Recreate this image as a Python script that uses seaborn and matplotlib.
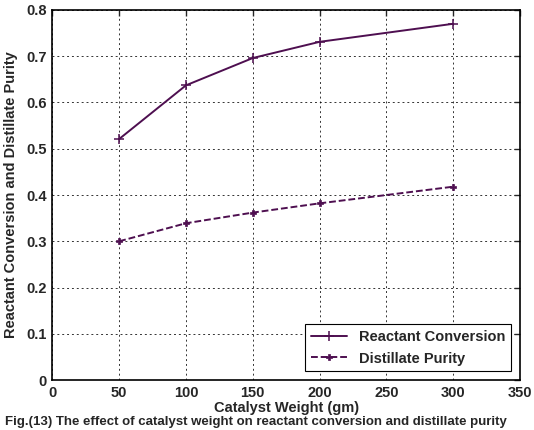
import matplotlib
matplotlib.use("Agg")
import matplotlib.pyplot as plt
import seaborn as sns

weights = [50, 100, 150, 200, 300]
reactant_conversion = [0.521, 0.637, 0.696, 0.731, 0.770]
distillate_purity = [0.300, 0.339, 0.362, 0.382, 0.418]
x_ticks = [0, 50, 100, 150, 200, 250, 300, 350]
y_ticks = [0, 0.1, 0.2, 0.3, 0.4, 0.5, 0.6, 0.7, 0.8]
y_tick_labels = ["0", "0.1", "0.2", "0.3", "0.4", "0.5", "0.6", "0.7", "0.8"]

sns.set_style("white")
plt.rcParams['font.family'] = ['Liberation Sans', 'DejaVu Sans']
plt.rcParams['font.weight'] = 'bold'

color = "#4e0f50"
fig = plt.figure(figsize=(5.34, 4.30), dpi=100)
ax = fig.add_axes([0.098, 0.116, 0.876, 0.861])
sns.lineplot(x=weights, y=reactant_conversion, ax=ax, color=color,
             marker="+", markersize=7, markeredgewidth=1.1, markeredgecolor=color,
             linewidth=1.4, label="Reactant Conversion")
sns.lineplot(x=weights, y=distillate_purity, ax=ax, color=color,
             marker="P", markersize=5, markeredgewidth=0.5, markeredgecolor=color,
             markerfacecolor=color, linewidth=1.4,
             linestyle=(0, (3.5, 1.5)), label="Distillate Purity")

ax.set_xlim(0, 350)
ax.set_ylim(0, 0.8)
ax.set_xticks(x_ticks)
ax.set_yticks(y_ticks)
ax.set_yticklabels(y_tick_labels)
ax.tick_params(axis='both', labelsize=10.5, direction='in', length=4, width=1, pad=4,
               top=True, right=True)
for lab in ax.get_xticklabels() + ax.get_yticklabels():
    lab.set_fontweight('bold')
ax.grid(True, color='black', linestyle=(0, (2, 3)), linewidth=0.7, alpha=0.8)
for sp in ax.spines.values():
    sp.set_color('black')
    sp.set_linewidth(1.2)

ax.set_xlabel("Catalyst Weight (gm)", fontsize=10.5, fontweight='bold', labelpad=1)
ax.set_ylabel("Reactant Conversion and Distillate Purity", fontsize=10.5, fontweight='bold', labelpad=6)

leg = ax.legend(loc='lower right', fontsize=10.5, frameon=True, fancybox=False,
                edgecolor='black', framealpha=1, borderaxespad=0.6, handlelength=2.5)
leg.get_frame().set_linewidth(0.8)
for t in leg.get_texts():
    t.set_fontweight('bold')

fig.text(0.01, 0.004, "Fig.(13) The effect of catalyst weight on reactant conversion and distillate purity",
         fontsize=9.5, fontweight='bold', ha='left', va='bottom')

fig.savefig("out.png", dpi=100)
